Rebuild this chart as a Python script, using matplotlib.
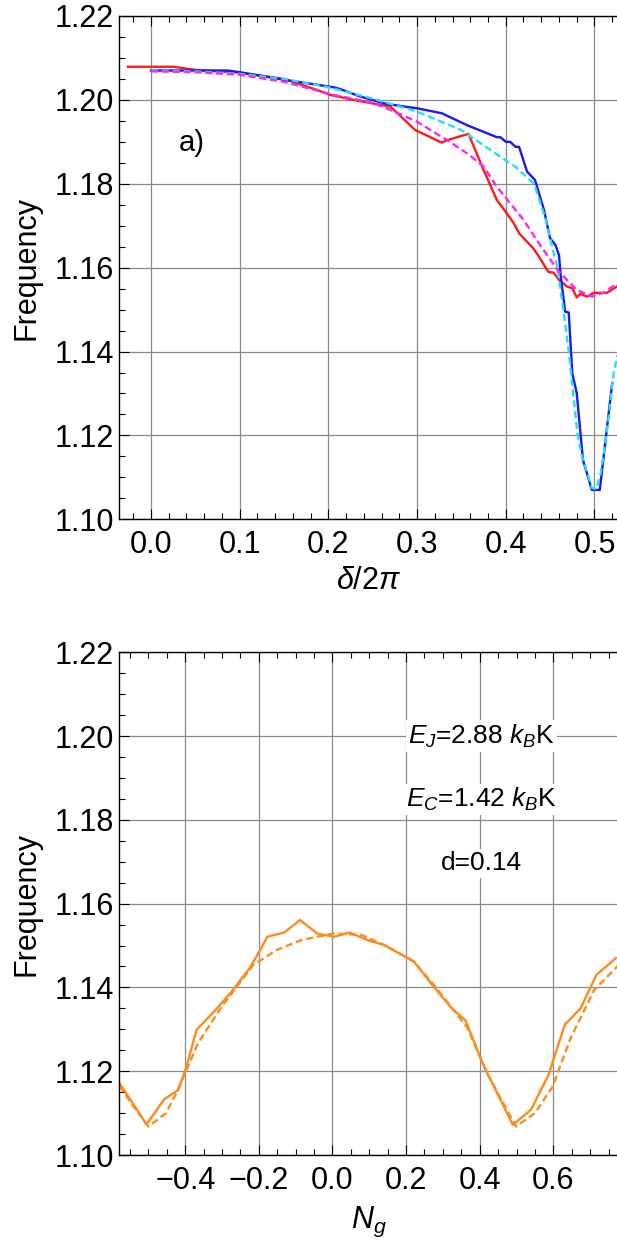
import matplotlib
matplotlib.use("Agg")
import matplotlib.pyplot as plt
from matplotlib.ticker import MultipleLocator, FuncFormatter

plt.rcParams["font.family"] = ["Liberation Sans", "DejaVu Sans"]
plt.rcParams["mathtext.fontset"] = "custom"
plt.rcParams["mathtext.rm"] = "Liberation Sans"
plt.rcParams["mathtext.it"] = "Liberation Sans:italic"

# ---- panel a: frequency vs delta/2pi ----
red_x = [-0.026, 0.025, 0.052, 0.10, 0.15, 0.187, 0.202, 0.228, 0.270, 0.298,
         0.328, 0.334, 0.358, 0.375, 0.390, 0.400, 0.409, 0.415, 0.431, 0.435,
         0.441, 0.448, 0.454, 0.460, 0.469, 0.475, 0.480, 0.484, 0.492, 0.499,
         0.514, 0.526]
red_y = [1.2079, 1.2079, 1.2071, 1.2065, 1.2050, 1.2024, 1.2012, 1.2000, 1.1984, 1.1928,
         1.1898, 1.1904, 1.1919, 1.1833, 1.1761, 1.1733, 1.1706, 1.1682, 1.1646, 1.1634,
         1.1614, 1.1590, 1.1588, 1.1571, 1.1555, 1.1551, 1.1529, 1.1537, 1.1531, 1.1540,
         1.1540, 1.1556]

blue_x = [0.0, 0.087, 0.100, 0.150, 0.206, 0.213, 0.236, 0.266, 0.300, 0.328,
          0.356, 0.390, 0.394, 0.400, 0.405, 0.411, 0.415, 0.424, 0.433, 0.443,
          0.450, 0.456, 0.460, 0.462, 0.467, 0.471, 0.475, 0.480, 0.487, 0.497,
          0.506, 0.520]
blue_y = [1.2070, 1.2070, 1.2066, 1.2048, 1.2030, 1.2026, 1.2008, 1.1990, 1.1980, 1.1968,
          1.1940, 1.1911, 1.1911, 1.1900, 1.1900, 1.1888, 1.1888, 1.1829, 1.1809, 1.1738,
          1.1670, 1.1654, 1.1630, 1.1579, 1.1495, 1.1493, 1.1348, 1.1301, 1.1142, 1.1070,
          1.1070, 1.1325]

cyan_x = [0.0, 0.05, 0.10, 0.15, 0.20, 0.25, 0.30, 0.35, 0.383, 0.41,
          0.432, 0.445, 0.458, 0.465, 0.471, 0.476, 0.481, 0.486, 0.492, 0.497,
          0.502, 0.507, 0.512, 0.517, 0.521, 0.526]
cyan_y = [1.2070, 1.2068, 1.2062, 1.2050, 1.2030, 1.2003, 1.1972, 1.1928, 1.1880, 1.1842,
          1.1800, 1.1715, 1.1600, 1.1500, 1.1400, 1.1300, 1.1200, 1.1150, 1.1110, 1.1075,
          1.1072, 1.1110, 1.1180, 1.1260, 1.1340, 1.1392]

mag_x = [0.0, 0.05, 0.10, 0.15, 0.206, 0.25, 0.27, 0.30, 0.334, 0.358,
         0.375, 0.39, 0.42, 0.44, 0.46, 0.48, 0.497, 0.51, 0.526]
mag_y = [1.2068, 1.2066, 1.2060, 1.2043, 1.2012, 1.1993, 1.1976, 1.1948, 1.1904, 1.1870,
         1.1841, 1.1793, 1.1714, 1.1650, 1.1590, 1.1547, 1.1531, 1.1540, 1.1563]

# ---- panel b: frequency vs N_g ----
ng_x = [-0.578, -0.548, -0.505, -0.457, -0.419, -0.398, -0.369, -0.322, -0.274, -0.225,
        -0.193, -0.177, -0.131, -0.088, -0.042, 0.004, 0.047, 0.098, 0.141, 0.221,
        0.275, 0.324, 0.361, 0.410, 0.490, 0.539, 0.587, 0.631, 0.674, 0.717, 0.770]
ng_y = [1.1171, 1.1131, 1.1073, 1.1133, 1.1155, 1.1207, 1.1299, 1.1342, 1.1390, 1.1446,
        1.1494, 1.1521, 1.1531, 1.1561, 1.1529, 1.1521, 1.1531, 1.1512, 1.1501, 1.1462,
        1.1402, 1.1350, 1.1322, 1.1215, 1.1072, 1.1108, 1.1191, 1.1311, 1.1350, 1.1430,
        1.1470]

fit_x = [-0.578, -0.54, -0.500, -0.452, -0.424, -0.398, -0.365, -0.301, -0.215, -0.150,
         -0.085, 0.004, 0.08, 0.141, 0.221, 0.281, 0.367, 0.42, 0.4985, 0.55,
         0.598, 0.647, 0.711, 0.776]
fit_y = [1.1165, 1.1115, 1.1068, 1.1100, 1.1148, 1.1200, 1.1267, 1.1354, 1.1454, 1.1490,
         1.1513, 1.1529, 1.1525, 1.1501, 1.1462, 1.1400, 1.1303, 1.1195, 1.1068, 1.1100,
         1.1163, 1.1279, 1.1394, 1.1452]

notes = [r"$E_J$=2.88 $k_B$K", r"$E_C$=1.42 $k_B$K", "d=0.14"]
note_y = [1.2000, 1.1848, 1.1696]

W, H = 617, 1243
fig = plt.figure(figsize=(W / 100, H / 100), dpi=100)


def minus(v, pos, fmt):
    return (fmt % v).replace("-", "\u2212")


def style(ax, xmaj, xmin, xfmt):
    ax.set_axisbelow(True)
    ax.grid(True, which="major", color="#8a8a8a", lw=0.9)
    ax.xaxis.set_major_locator(MultipleLocator(xmaj))
    ax.xaxis.set_minor_locator(MultipleLocator(xmin))
    ax.yaxis.set_major_locator(MultipleLocator(0.02))
    ax.yaxis.set_minor_locator(MultipleLocator(0.005))
    ax.xaxis.set_major_formatter(FuncFormatter(lambda v, p: minus(v, p, xfmt)))
    ax.yaxis.set_major_formatter(FuncFormatter(lambda v, p: minus(v, p, "%.2f")))
    ax.tick_params(which="both", direction="in", top=True, right=False,
                   width=0.8, colors="black")
    ax.tick_params(which="major", length=7, labelsize=22)
    ax.tick_params(which="minor", length=4)
    ax.tick_params(axis="x", pad=8)
    ax.tick_params(axis="y", pad=4)
    ax.spines["right"].set_visible(False)
    for s in ("left", "bottom", "top"):
        ax.spines[s].set_linewidth(1.0)
    ax.set_ylim(1.10, 1.22)
    ax.set_ylabel("Frequency", fontsize=22)
    ax.yaxis.set_label_coords(-0.155, 0.5)


left = 119.3 / W
width = (W - 119.3) / W + 0.003

# top panel
ax1 = fig.add_axes([left, 1 - 519.3 / H, width, 503.3 / H])
ax1.plot(red_x, red_y, color="#ff1a1a", lw=1.7)
ax1.plot(blue_x, blue_y, color="#1a1aee", lw=1.7)
ax1.plot(cyan_x, cyan_y, color="#22e0f0", lw=1.7, ls=(0, (3, 1.6)))
ax1.plot(mag_x, mag_y, color="#ff22ff", lw=1.7, ls=(0, (3, 1.6)))
ax1.set_xlim(-0.0357, 0.5275)
style(ax1, 0.1, 0.02, "%.1f")
ax1.set_xlabel(r"$\delta/2\pi$", fontsize=22)
ax1.xaxis.set_label_coords(0.5, -0.093)
ax1.text(0.046, 1.1897, "a)", fontsize=21, ha="center", va="center")

# bottom panel
ax2 = fig.add_axes([left, 1 - 1155 / H, width, 502.7 / H])
ax2.plot(ng_x, ng_y, color="#fb8c1e", lw=1.7)
ax2.plot(fit_x, fit_y, color="#fb8c1e", lw=1.7, ls=(0, (3, 1.6)))
ax2.set_xlim(-0.579, 0.778)
style(ax2, 0.2, 0.05, "%.1f")
ax2.set_xlabel(r"$N_g$", fontsize=22)
ax2.xaxis.set_label_coords(0.5, -0.1)
for t, yv in zip(notes, note_y):
    ax2.text(0.404, yv, t, fontsize=19, ha="center", va="center",
             bbox=dict(facecolor="white", edgecolor="none", pad=1.5))

fig.savefig("out.png", dpi=100)
